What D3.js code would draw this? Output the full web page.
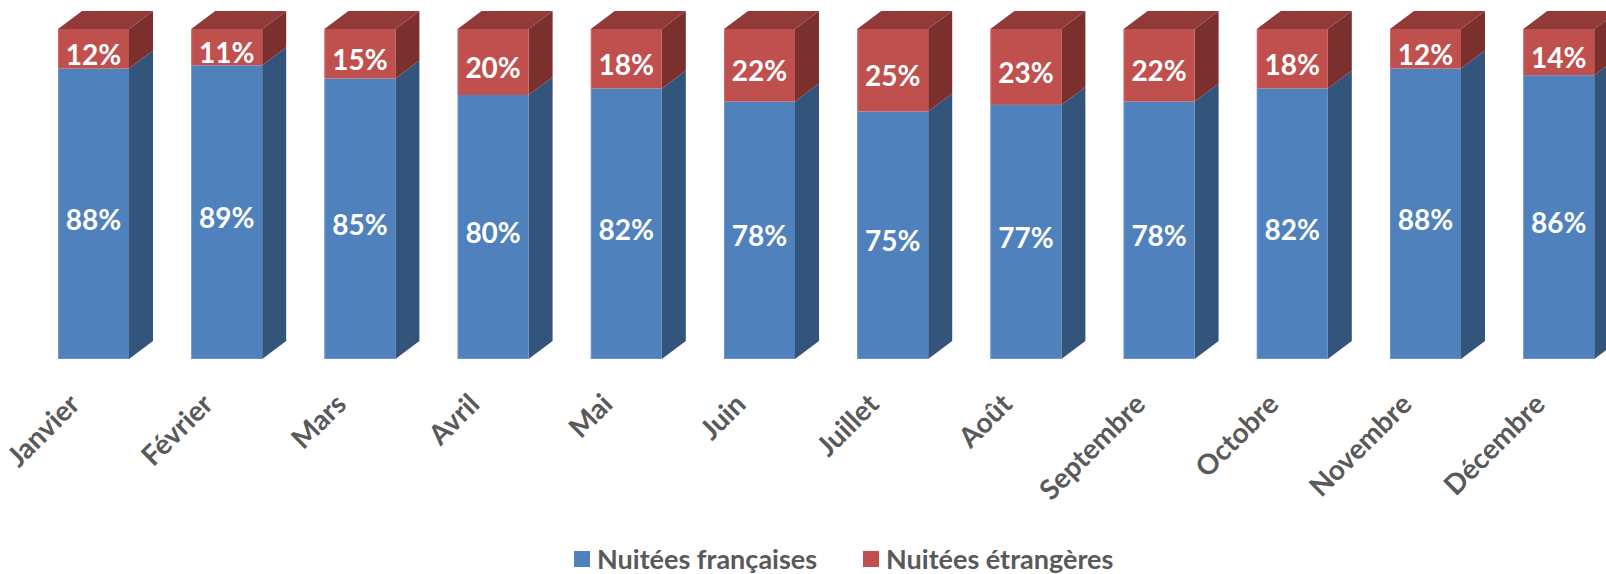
<!DOCTYPE html>
<html><head><meta charset="utf-8">
<script src="https://cdn.jsdelivr.net/npm/d3@7"></script>
<style>body{margin:0;background:#fff}svg{display:block}</style>
</head><body>
<svg id="chart" width="1606" height="574"></svg>
<script>
const months = ["Janvier","Février","Mars","Avril","Mai","Juin","Juillet","Août","Septembre","Octobre","Novembre","Décembre"];
const francaises = [88,89,85,80,82,78,75,77,78,82,88,86];
const etrangeres = [12,11,15,20,18,22,25,23,22,18,12,14];
const seriesNames = ["Nuitées françaises","Nuitées étrangères"];

const W = 1606, H = 574;
const svg = d3.select("#chart");
const font = "Lato, 'Open Sans', sans-serif";
const colors = {
  blue: {front:"#4F81BD", side:"#33557C", top:"#3E6597", edge:"#7EA3D3"},
  red:  {front:"#C0504D", side:"#7C302E", top:"#913A38", edge:"#D47F7D"}
};
const depthX = 24, depthY = 18;

const x = d3.scaleBand().domain(months).range([58, 1594.2]).paddingInner(0.467).paddingOuter(0);
const y = d3.scaleLinear().domain([0,100]).range([359, 29]);

const data = months.map((m,i)=>({m, fr: francaises[i], et: etrangeres[i]}));
const segs = [];
data.forEach(d=>{
  segs.push({m:d.m, y0:0, y1:d.fr, c:colors.blue, v:d.fr, top:false});
  segs.push({m:d.m, y0:d.fr, y1:d.fr+d.et, c:colors.red, v:d.et, top:true});
});

const g = svg.append("g");
const bar = g.selectAll("g.seg").data(segs).join("g").attr("class","seg");
// side face
bar.append("path").attr("fill", d=>d.c.side).attr("d", d=>{
  const xr = x(d.m)+x.bandwidth();
  const yt = y(d.y1), yb = y(d.y0);
  return `M${xr},${yt}L${xr+depthX},${yt-depthY}L${xr+depthX},${yb-depthY}L${xr},${yb}Z`;
});
// top face
bar.filter(d=>d.top).append("path").attr("fill", d=>d.c.top).attr("d", d=>{
  const xl = x(d.m), xr = xl + x.bandwidth(), yt = y(d.y1);
  return `M${xl},${yt}L${xl+depthX},${yt-depthY}L${xr+depthX},${yt-depthY}L${xr},${yt}Z`;
});
// front face
bar.append("rect")
  .attr("x", d=>x(d.m)).attr("y", d=>y(d.y1))
  .attr("width", x.bandwidth()).attr("height", d=>y(d.y0)-y(d.y1))
  .attr("fill", d=>d.c.front);
bar.append("path").attr("fill","none").attr("stroke", d=>d.c.edge).attr("stroke-width",1).attr("opacity",0.6)
  .attr("d", d=>{
    const xl = x(d.m)+0.5, yt=y(d.y1), yb=y(d.y0)-0.5;
    return `M${xl},${yt}L${xl},${yb}` + (d.top?"":`L${xl+x.bandwidth()-1},${yb}`);
  });
// value labels
bar.append("text")
  .attr("x", d=>x(d.m)+x.bandwidth()/2)
  .attr("y", d=>(y(d.y0)+y(d.y1))/2 + 6)
  .attr("dy","0.36em")
  .attr("text-anchor","middle")
  .attr("fill","#fff").attr("font-family",font).attr("font-weight","bold").attr("font-size","28px")
  .text(d=>d.v+"%");

// category axis labels
const xAxis = svg.append("g");
xAxis.selectAll("text").data(months).join("text")
  .attr("transform", m=>`translate(${x(m)+x.bandwidth()/2-12},${406}) rotate(-45)`)
  .attr("text-anchor","end")
  .attr("fill","#595959").attr("font-family",font).attr("font-weight","bold").attr("font-size","28px")
  .text(m=>m);

// legend
const legend = svg.append("g");
const legItems = [{name:seriesNames[0], c:colors.blue.front, x:574},{name:seriesNames[1], c:colors.red.front, x:863}];
const li = legend.selectAll("g").data(legItems).join("g").attr("transform", d=>`translate(${d.x},551)`);
li.append("rect").attr("width",16).attr("height",16).attr("fill", d=>d.c);
li.append("text").attr("x",23).attr("y",8).attr("dy","0.36em")
  .attr("fill","#595959").attr("font-family",font).attr("font-weight","bold").attr("font-size","27px")
  .text(d=>d.name);
</script>
</body></html>
